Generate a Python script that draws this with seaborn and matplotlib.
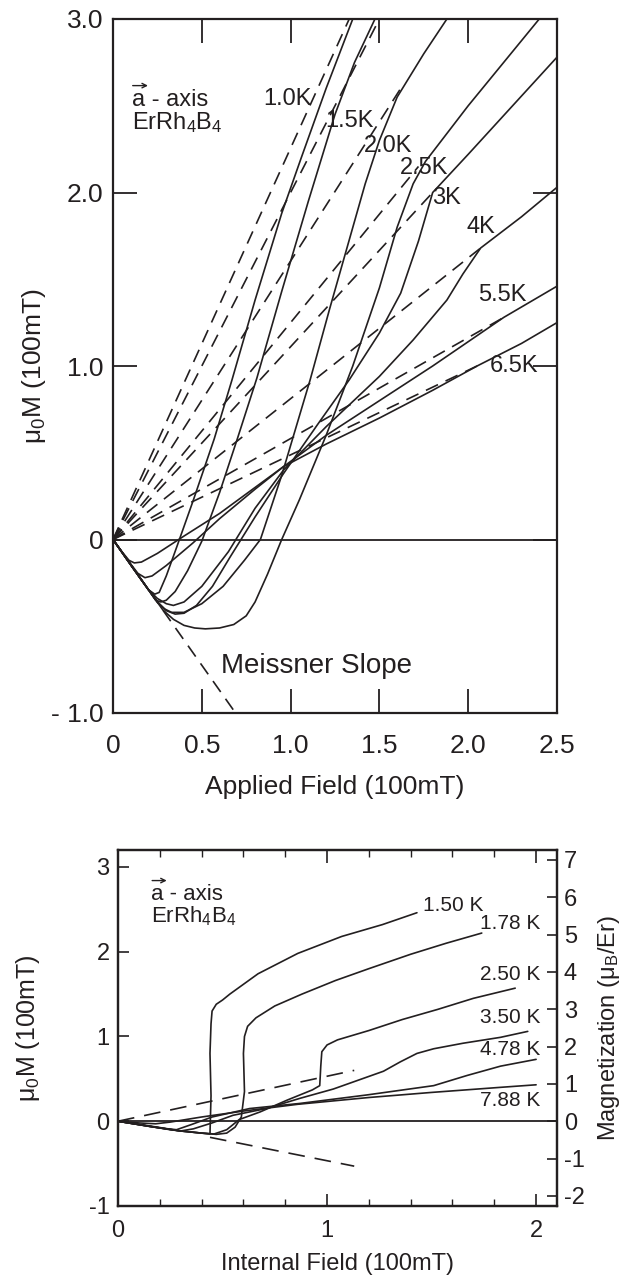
import numpy as np
import pandas as pd
import matplotlib
matplotlib.use("Agg")
import matplotlib.pyplot as plt
from matplotlib.transforms import offset_copy
from matplotlib.ticker import MultipleLocator
import seaborn as sns

sns.set_style("ticks")
plt.rcParams['font.family'] = ['Liberation Sans', 'DejaVu Sans']
plt.rcParams['mathtext.fontset'] = 'custom'
plt.rcParams['mathtext.rm'] = 'Liberation Sans'
plt.rcParams['mathtext.it'] = 'Liberation Sans:italic'

# ---------------- upper panel: M vs applied field ----------------
applied_temps = ["1.0K", "1.5K", "2.0K", "2.5K", "3K", "4K", "5.5K", "6.5K"]

h_10 = [0, 0.12, 0.2, 0.235, 0.26, 0.3, 0.36, 0.45, 0.57, 0.67, 0.8, 0.95, 1.06, 1.2, 1.35]
m_10 = [0, -0.175, -0.29, -0.315, -0.305, -0.21, -0.04, 0.22, 0.58, 0.92, 1.38, 1.88, 2.2, 2.6, 3.0]

h_15 = [0, 0.12, 0.2, 0.24, 0.27, 0.3, 0.35, 0.42, 0.5, 0.6, 0.7, 0.81, 0.95, 1.1, 1.25, 1.36, 1.475]
m_15 = [0, -0.175, -0.29, -0.35, -0.36, -0.35, -0.3, -0.18, -0.01, 0.27, 0.58, 0.93, 1.43, 1.95, 2.45, 2.75, 3.0]

h_20 = [0, 0.12, 0.2, 0.25, 0.29, 0.33, 0.4, 0.5, 0.62, 0.74, 0.83, 0.95, 1.11, 1.22, 1.32, 1.42, 1.5, 1.6, 1.75, 1.88]
m_20 = [0, -0.175, -0.29, -0.36, -0.4, -0.42, -0.42, -0.37, -0.27, -0.12, 0.0, 0.37, 0.92, 1.33, 1.69, 2.05, 2.3, 2.55, 2.8, 3.0]

h_25 = [0, 0.12, 0.2, 0.28, 0.34, 0.4, 0.46, 0.52, 0.6, 0.68, 0.75, 0.8, 0.87, 0.95, 1.05, 1.2, 1.35, 1.5, 1.6, 1.69, 1.76, 1.85, 2.0, 2.2, 2.4]
m_25 = [0, -0.175, -0.29, -0.405, -0.46, -0.495, -0.51, -0.515, -0.51, -0.49, -0.44, -0.36, -0.2, 0.0, 0.23, 0.6, 1.0, 1.45, 1.8, 2.05, 2.18, 2.3, 2.5, 2.75, 3.0]

h_30 = [0, 0.12, 0.2, 0.26, 0.3, 0.35, 0.4, 0.47, 0.56, 0.66, 0.8, 0.96, 1.15, 1.33, 1.5, 1.62, 1.72, 1.8, 2.0, 2.25, 2.5]
m_30 = [0, -0.175, -0.29, -0.37, -0.41, -0.43, -0.425, -0.38, -0.27, -0.1, 0.13, 0.38, 0.66, 0.92, 1.19, 1.42, 1.72, 2.0, 2.22, 2.5, 2.78]

h_40 = [0, 0.12, 0.2, 0.25, 0.3, 0.34, 0.4, 0.5, 0.65, 0.8, 0.96, 1.2, 1.5, 1.69, 1.88, 1.97, 2.07, 2.3, 2.5]
m_40 = [0, -0.175, -0.29, -0.34, -0.37, -0.38, -0.36, -0.27, -0.07, 0.18, 0.4, 0.65, 0.94, 1.15, 1.38, 1.53, 1.68, 1.86, 2.03]

h_55 = [0, 0.08, 0.14, 0.18, 0.22, 0.3, 0.45, 0.6, 0.8, 0.96, 1.2, 1.5, 1.8, 2.0, 2.2, 2.5]
m_55 = [0, -0.115, -0.195, -0.22, -0.21, -0.15, -0.02, 0.12, 0.29, 0.42, 0.6, 0.8, 1.0, 1.14, 1.28, 1.46]

h_65 = [0, 0.05, 0.09, 0.12, 0.16, 0.25, 0.4, 0.6, 0.8, 0.96, 1.2, 1.5, 1.8, 2.05, 2.3, 2.5]
m_65 = [0, -0.07, -0.12, -0.135, -0.13, -0.08, 0.02, 0.15, 0.3, 0.42, 0.55, 0.7, 0.86, 1.0, 1.13, 1.25]

# linear normal-state lines from the origin (end points)
para_end_h = [1.33, 1.5, 1.62, 1.72, 1.8, 2.07, 2.2, 2.05]
para_end_m = [3.0, 3.0, 2.6, 2.15, 2.0, 1.68, 1.28, 1.0]
meissner_end = (0.69, -1.0)

# temperature label centres
applied_lbl_h = [0.98, 1.33, 1.55, 1.75, 1.88, 2.07, 2.19, 2.26]
applied_lbl_m = [2.54, 2.41, 2.27, 2.14, 1.97, 1.80, 1.41, 1.00]

applied_curves = [(h_10, m_10), (h_15, m_15), (h_20, m_20), (h_25, m_25),
                  (h_30, m_30), (h_40, m_40), (h_55, m_55), (h_65, m_65)]

# ---------------- lower panel: M vs internal field ----------------
internal_temps = ["1.50 K", "1.78 K", "2.50 K", "3.50 K", "4.78 K", "7.88 K"]

hi_150 = [0, 0.15, 0.3, 0.4, 0.44, 0.445, 0.44, 0.445, 0.45, 0.47, 0.5, 0.535, 0.67, 0.86, 1.07, 1.265, 1.43]
mi_150 = [0, -0.06, -0.115, -0.14, -0.15, 0.3, 0.8, 1.15, 1.3, 1.38, 1.43, 1.5, 1.74, 1.98, 2.18, 2.32, 2.46]

hi_178 = [0, 0.15, 0.3, 0.4, 0.47, 0.52, 0.56, 0.59, 0.605, 0.6, 0.605, 0.62, 0.66, 0.75, 0.88, 1.04, 1.2, 1.4, 1.57, 1.74]
mi_178 = [0, -0.06, -0.115, -0.14, -0.155, -0.14, -0.07, 0.05, 0.35, 0.8, 1.0, 1.12, 1.22, 1.36, 1.5, 1.66, 1.8, 1.97, 2.1, 2.22]

hi_250 = [0, 0.15, 0.3, 0.4, 0.46, 0.52, 0.58, 0.68, 0.81, 0.93, 0.965, 0.97, 0.975, 1.0, 1.05, 1.2, 1.36, 1.53, 1.7, 1.9]
mi_250 = [0, -0.06, -0.115, -0.14, -0.15, -0.1, 0.02, 0.11, 0.25, 0.37, 0.42, 0.65, 0.82, 0.9, 0.96, 1.07, 1.2, 1.32, 1.45, 1.57]

hi_350 = [0, 0.15, 0.25, 0.3, 0.36, 0.45, 0.55, 0.71, 0.87, 1.03, 1.19, 1.27, 1.35, 1.43, 1.51, 1.65, 1.83, 1.96]
mi_350 = [0, -0.06, -0.1, -0.115, -0.09, -0.02, 0.07, 0.15, 0.27, 0.38, 0.52, 0.59, 0.7, 0.8, 0.855, 0.92, 0.99, 1.06]

hi_478 = [0, 0.15, 0.24, 0.28, 0.35, 0.45, 0.63, 0.87, 1.19, 1.51, 1.67, 1.83, 2.0]
mi_478 = [0, -0.055, -0.09, -0.1, -0.04, 0.05, 0.15, 0.21, 0.31, 0.42, 0.54, 0.65, 0.73]

hi_788 = [0, 0.1, 0.18, 0.25, 0.4, 0.6, 0.86, 1.2, 1.5, 1.83, 2.0]
mi_788 = [0, -0.02, -0.03, -0.01, 0.05, 0.12, 0.2, 0.28, 0.34, 0.40, 0.43]

internal_curves = [(hi_150, mi_150), (hi_178, mi_178), (hi_250, mi_250),
                   (hi_350, mi_350), (hi_478, mi_478), (hi_788, mi_788)]

internal_lbl_h = [1.46, 2.02, 2.02, 2.02, 2.02, 2.02]
internal_lbl_m = [2.54, 2.33, 1.73, 1.22, 0.85, 0.24]

normal_line_h = [0, 1.13]
normal_line_m = [0, 0.60]
meissner_line_h = [0.44, 1.13]
meissner_line_m = [-0.19, -0.53]

mu_b_per_unit = 2.27   # mu_B/Er per 100 mT of mu0 M

# ---------------- figure ----------------
fig = plt.figure(figsize=(6.33, 12.85), dpi=100)
ax1 = fig.add_axes([113 / 633, 1 - 713 / 1285, 444 / 633, 694 / 1285])
ax2 = fig.add_axes([118 / 633, 1 - 1206 / 1285, 439 / 633, 356 / 1285])

INK = "#231f20"
LW = 1.2
DASH = (0, (8, 5))

def line(ax, xs, ys, **kw):
    df = pd.DataFrame({"H": xs, "M": ys})
    sns.lineplot(data=df, x="H", y="M", sort=False, estimator=None,
                 color=INK, lw=kw.pop("lw", LW), ax=ax, **kw)

# upper panel
for (xe, ye) in zip(para_end_h, para_end_m):
    line(ax1, [0, xe], [0, ye], linestyle=DASH)
line(ax1, [0, meissner_end[0]], [0, meissner_end[1]], linestyle=DASH)
for xs, ys in applied_curves:
    line(ax1, xs, ys)
ax1.axhline(0, color=INK, lw=1.3)

for t, x, y in zip(applied_temps, applied_lbl_h, applied_lbl_m):
    ax1.text(x, y, t, fontsize=17, ha="center", va="center", color=INK)

ax1.text(0.61, -0.73, "Meissner Slope", fontsize=20, ha="left", va="center", color=INK)
ax1.text(0.107, 2.50, "a - axis", fontsize=17, ha="left", va="baseline", color=INK)
ax1.text(0.107, 2.363, "ErRh$_4$B$_4$", fontsize=17, ha="left", va="baseline", color=INK)
ax1.annotate("", xy=(0.107, 2.50), xycoords=offset_copy(ax1.transData, fig=fig, x=11.5, y=14.5, units="points"),
             xytext=(0.107, 2.50), textcoords=offset_copy(ax1.transData, fig=fig, x=0.5, y=14.5, units="points"),
             arrowprops=dict(arrowstyle="->", lw=1.0, color=INK, shrinkA=0, shrinkB=0,
                             mutation_scale=8))

ax1.set_xlim(0, 2.5)
ax1.set_ylim(-1, 3)
ax1.set_xticks([0, 0.5, 1.0, 1.5, 2.0, 2.5], ["0", "0.5", "1.0", "1.5", "2.0", "2.5"])
ax1.set_yticks([-1, 0, 1, 2, 3], ["- 1.0", "0", "1.0", "2.0", "3.0"])
ax1.tick_params(axis="both", direction="in", length=17, width=1.3, top=True, right=True,
                labelsize=19, colors=INK)
ax1.tick_params(axis="x", pad=15)
ax1.tick_params(axis="y", pad=7)
ax1.set_xlabel("Applied Field (100mT)", fontsize=19, color=INK)
ax1.set_ylabel("μ$_0$M (100mT)", fontsize=19, color=INK)
ax1.xaxis.set_label_coords(0.5, -0.09)
ax1.yaxis.set_label_coords(-0.146, 0.5)
for s in ax1.spines.values():
    s.set_linewidth(1.6)
    s.set_color(INK)

# lower panel
line(ax2, normal_line_h, normal_line_m, linestyle=(0, (10, 6)))
line(ax2, meissner_line_h, meissner_line_m, linestyle=(0, (10, 6)))
for xs, ys in internal_curves:
    line(ax2, xs, ys)
ax2.axhline(0, color=INK, lw=1.3)

for i, (t, x, y) in enumerate(zip(internal_temps, internal_lbl_h, internal_lbl_m)):
    ax2.text(x, y, t, fontsize=15, ha="left" if i == 0 else "right", va="center", color=INK)

ax2.text(0.16, 2.61, "a - axis", fontsize=16, ha="left", va="baseline", color=INK)
ax2.text(0.16, 2.34, "ErRh$_4$B$_4$", fontsize=16, ha="left", va="baseline", color=INK)
ax2.annotate("", xy=(0.16, 2.61), xycoords=offset_copy(ax2.transData, fig=fig, x=11, y=14, units="points"),
             xytext=(0.16, 2.61), textcoords=offset_copy(ax2.transData, fig=fig, x=0.5, y=14, units="points"),
             arrowprops=dict(arrowstyle="->", lw=1.0, color=INK, shrinkA=0, shrinkB=0,
                             mutation_scale=8))

ax2.set_xlim(0, 2.1)
ax2.set_ylim(-1, 3.2)
ax2.set_xticks([0, 1, 2], ["0", "1", "2"])
ax2.xaxis.set_minor_locator(MultipleLocator(0.2))
ax2.set_yticks([-1, 0, 1, 2, 3], ["-1", "0", "1", "2", "3"])
ax2.tick_params(axis="x", which="major", direction="in", length=9, width=1.2, top=True,
                labelsize=17, pad=10, colors=INK)
ax2.tick_params(axis="x", which="minor", direction="in", length=5, width=1.0, top=True, colors=INK)
ax2.tick_params(axis="y", which="major", direction="in", length=8, width=1.2, labelsize=17, pad=6,
                colors=INK)
ax2.set_xlabel("Internal Field (100mT)", fontsize=17, color=INK)
ax2.set_ylabel("μ$_0$M (100mT)", fontsize=18, color=INK)
ax2.xaxis.set_label_coords(0.5, -0.132)
ax2.yaxis.set_label_coords(-0.173, 0.5)
for s in ax2.spines.values():
    s.set_linewidth(1.6)
    s.set_color(INK)

ax3 = ax2.twinx()
ax3.set_ylim(-1 * mu_b_per_unit, 3.2 * mu_b_per_unit)
ax3.set_yticks(list(range(-2, 8)), [str(v) for v in range(-2, 8)])
ax3.tick_params(axis="y", direction="in", length=7, width=1.2, labelsize=17, pad=5, colors=INK)
ax3.set_ylabel("Magnetization (μ$_{\\mathrm{B}}$/Er)", fontsize=17, color=INK, rotation=90)
ax3.yaxis.set_label_coords(1.089, 0.5)
for s in ax3.spines.values():
    s.set_linewidth(1.6)
    s.set_color(INK)

fig.savefig("out.png", dpi=100)
